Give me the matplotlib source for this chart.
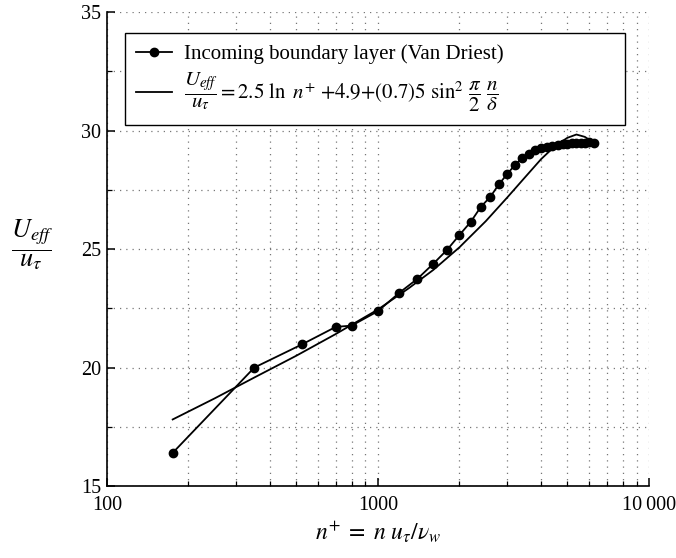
import matplotlib
matplotlib.use("Agg")
import matplotlib.pyplot as plt
import matplotlib.ticker as mticker

# Van Driest incoming boundary layer
vd_n = [175, 350, 525, 700, 800, 1000, 1200, 1400, 1600, 1800, 2000, 2200,
        2400, 2600, 2800, 3000, 3200, 3400, 3600, 3800, 4000, 4200, 4400,
        4600, 4800, 5000, 5200, 5400, 5600, 5800, 6000, 6250]
vd_u = [16.4, 20.0, 20.98, 21.72, 21.77, 22.38, 23.16, 23.75, 24.38, 24.97,
        25.6, 26.15, 26.79, 27.21, 27.75, 28.17, 28.55, 28.84, 29.03, 29.19,
        29.29, 29.33, 29.37, 29.40, 29.43, 29.45, 29.47, 29.48, 29.49, 29.50,
        29.51, 29.50]

# law of the wall + wake curve
fit_n = [175, 250, 350, 500, 700, 1000, 1300, 1600, 2000, 2500, 3000, 3500,
         4000, 4500, 5000, 5400, 5800, 6250]
fit_u = [17.81, 18.70, 19.58, 20.5, 21.42, 22.45, 23.35, 24.12, 25.08, 26.18,
         27.18, 28.05, 28.8, 29.35, 29.7, 29.84, 29.74, 29.5]

plt.rcParams.update({
    "font.family": ["Liberation Serif", "DejaVu Serif"],
    "mathtext.fontset": "stix",
    "font.size": 14,
    "axes.linewidth": 1.2,
})

fig = plt.figure(figsize=(6.76, 5.58), dpi=100)
ax = fig.add_axes([0.158, 0.129, 0.802, 0.849])

ax.plot(vd_n, vd_u, color="black", lw=1.3, marker="o", ms=6,
        label="Incoming boundary layer (Van Driest)")
ax.plot(fit_n, fit_u, color="black", lw=1.3,
        label=r"$\dfrac{U_{eff}}{u_\tau} = 2.5\ \ln\ n^{+}\ {+}4.9{+}(0.7)5\ \sin^2\,\dfrac{\pi}{2}\ \dfrac{n}{\delta}$")

ax.set_xscale("log")
ax.set_xlim(100, 10000)
ax.set_ylim(15, 35)
ax.xaxis.set_major_locator(mticker.FixedLocator([100, 1000, 10000]))
ax.xaxis.set_major_formatter(mticker.FixedFormatter(["100", "1000", "10\u2009000"]))
ax.xaxis.set_minor_locator(mticker.LogLocator(base=10, subs=range(2, 10)))
ax.xaxis.set_minor_formatter(mticker.NullFormatter())
ax.yaxis.set_major_locator(mticker.MultipleLocator(5))
ax.yaxis.set_minor_locator(mticker.MultipleLocator(2.5))

ax.grid(which="both", linestyle=(0, (1, 4)), color="#777777", lw=0.9)
ax.spines["top"].set_visible(False)
ax.spines["right"].set_visible(False)
ax.tick_params(which="both", direction="in", top=False, right=False,
               labelsize=14.5)
ax.tick_params(axis="x", pad=7)
ax.tick_params(axis="y", pad=4)
ax.tick_params(which="major", length=6, width=1.1)
ax.tick_params(which="minor", length=3.5, width=0.9)

ax.set_xlabel(r"$n^{+}\;=\;n\ u_\tau/\nu_w$", fontsize=17, labelpad=3)
ax.set_ylabel(r"$\dfrac{U_{eff}}{u_\tau}$", fontsize=19, rotation=0,
              va="center", ha="center")
ax.yaxis.set_label_coords(-0.138, 0.51)

leg = ax.legend(loc="upper left", bbox_to_anchor=(0.033, 0.736, 0.923, 0.22),
                mode="expand", fancybox=False, framealpha=1, edgecolor="black",
                fontsize=15, handlelength=1.7, handletextpad=0.6,
                borderaxespad=0, labelspacing=0.3, borderpad=0.55)
leg.get_frame().set_linewidth(1.0)

fig.savefig("out.png", dpi=100)
